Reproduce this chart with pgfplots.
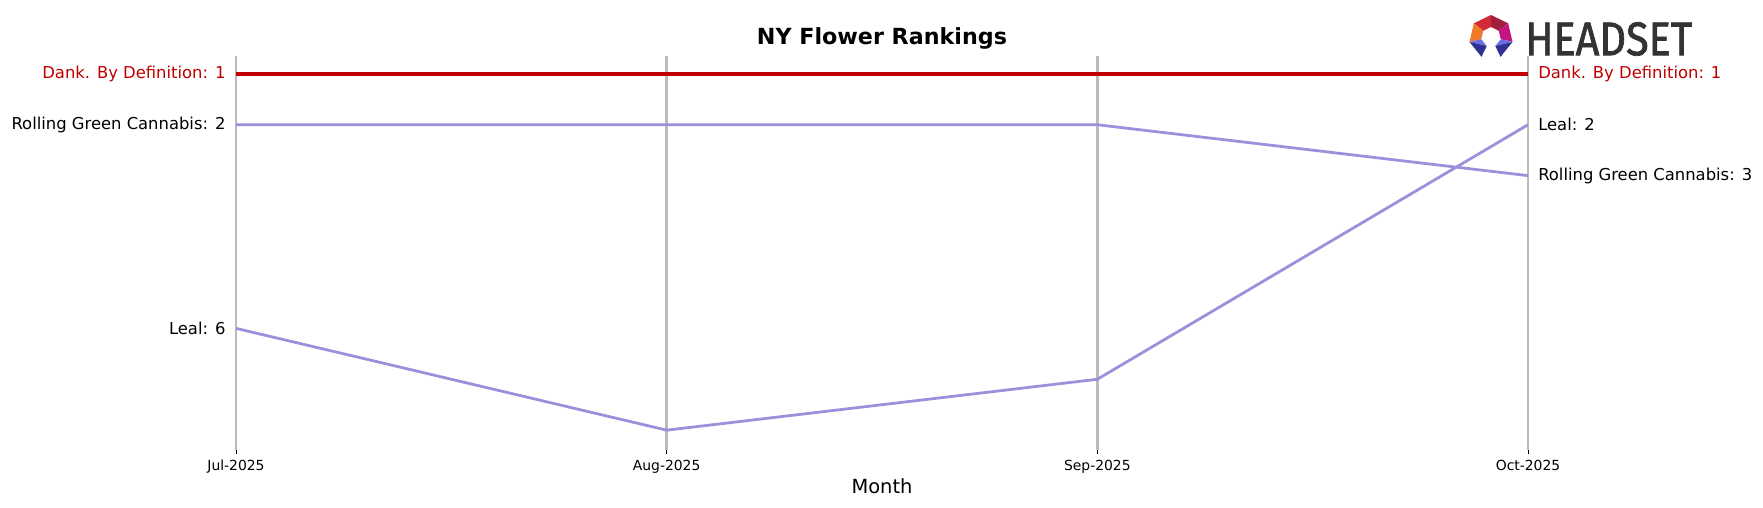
\documentclass[border=0pt]{standalone}
\usepackage{fontspec}
\setmainfont{DejaVu Sans}
\newfontfamily\logofont[FakeBold=1.6]{Fira Sans}
\usepackage{graphicx}
\usepackage{pgfplots}
\pgfplotsset{compat=1.18}

\definecolor{rankred}{HTML}{C00000}
\definecolor{rankpurple}{HTML}{9D8FDB}
\definecolor{gridgray}{HTML}{BBBBBB}
\definecolor{logogray}{HTML}{333333}
\definecolor{logoA}{HTML}{D42A35}
\definecolor{logoB}{HTML}{A31F3F}
\definecolor{logoC}{HTML}{EE7A2A}
\definecolor{logoD}{HTML}{C4147F}
\definecolor{logoE}{HTML}{6B6FE3}
\definecolor{logoF}{HTML}{2E3192}

\begin{document}
\begin{tikzpicture}
% 1 px of the reference = 0.72pt
\begin{axis}[
    at={(635.04pt,-182.16pt)}, anchor=center,
    width=930.24pt, height=283.68pt, scale only axis,
    xmin=0, xmax=3, ymin=0.65, ymax=8.39,
    y dir=reverse,
    clip=false,
    axis line style={draw=none},
    xtick={0,1,2,3},
    xticklabels={Jul-2025,Aug-2025,Sep-2025,Oct-2025},
    ytick=\empty,
    xtick pos=bottom, xtick align=outside,
    major tick length=3pt,
    tick style={black, line width=0.6pt},
    xmajorgrids,
    grid style={gridgray, line width=2pt},
    xticklabel style={font=\fontsize{10}{12}\selectfont, anchor=base, yshift=-11.4pt},
]
\addplot[rankpurple, line width=2pt, line join=round] coordinates {(0,2) (1,2) (2,2) (3,3)};
\addplot[rankpurple, line width=2pt, line join=round] coordinates {(0,6) (1,8) (2,7) (3,2)};
\addplot[rankred, line width=3pt] coordinates {(0,1) (1,1) (2,1) (3,1)};

% start labels
\node[anchor=east, inner sep=0, xshift=-7.4pt, text=rankred, font=\fontsize{11.8}{14}\selectfont] at (axis cs:0,1) {Dank. By Definition: 1};
\node[anchor=east, inner sep=0, xshift=-7.4pt, font=\fontsize{11.8}{14}\selectfont] at (axis cs:0,2) {Rolling Green Cannabis: 2};
\node[anchor=east, inner sep=0, xshift=-7.4pt, font=\fontsize{11.8}{14}\selectfont] at (axis cs:0,6) {Leal: 6};
% end labels
\node[anchor=west, inner sep=0, xshift=7.2pt, text=rankred, font=\fontsize{11.8}{14}\selectfont] at (axis cs:3,1) {Dank. By Definition: 1};
\node[anchor=west, inner sep=0, xshift=7.2pt, font=\fontsize{11.8}{14}\selectfont] at (axis cs:3,2) {Leal: 2};
\node[anchor=west, inner sep=0, xshift=7.2pt, font=\fontsize{11.8}{14}\selectfont] at (axis cs:3,3) {Rolling Green Cannabis: 3};

% title and axis label
\node[anchor=base, inner sep=0, yshift=8.64pt, font=\bfseries\fontsize{16}{19}\selectfont] at (axis cs:1.5,0.65) {NY Flower Rankings};
\node[anchor=base, inner sep=0, yshift=-30.96pt, font=\fontsize{14}{17}\selectfont] at (axis cs:1.5,8.39) {Month};
\end{axis}

% logo, in reference pixels
\begin{scope}[x=0.72pt, y=-0.72pt]
\fill[logoA] (1491,15) -- (1473.8,23.3) -- (1483.2,30.8) -- (1491,27) -- cycle;
\fill[logoB] (1491,15) -- (1508.2,23.3) -- (1498.8,30.8) -- (1491,27) -- cycle;
\fill[logoC] (1473.8,23.3) -- (1469.5,41.9) -- (1481.2,39.2) -- (1483.2,30.8) -- cycle;
\fill[logoD] (1508.2,23.3) -- (1512.5,41.9) -- (1500.8,39.2) -- (1498.8,30.8) -- cycle;
\fill[logoE] (1469.5,41.9) -- (1481.2,39.2) -- (1486.7,46) -- cycle;
\fill[logoF] (1469.5,41.9) -- (1481.5,56.8) -- (1486.7,46) -- cycle;
\fill[logoE] (1512.5,41.9) -- (1500.8,39.2) -- (1495.3,46) -- cycle;
\fill[logoF] (1512.5,41.9) -- (1500.5,56.8) -- (1495.3,46) -- cycle;
\node[anchor=south west, inner sep=0, text=logogray] at (1525,56) {\resizebox{120.24pt}{23.76pt}{\logofont HEADSET}};
\end{scope}

\pgfresetboundingbox
\path[use as bounding box] (0,0) rectangle (1269.36pt,-365.04pt);
\end{tikzpicture}
\end{document}
